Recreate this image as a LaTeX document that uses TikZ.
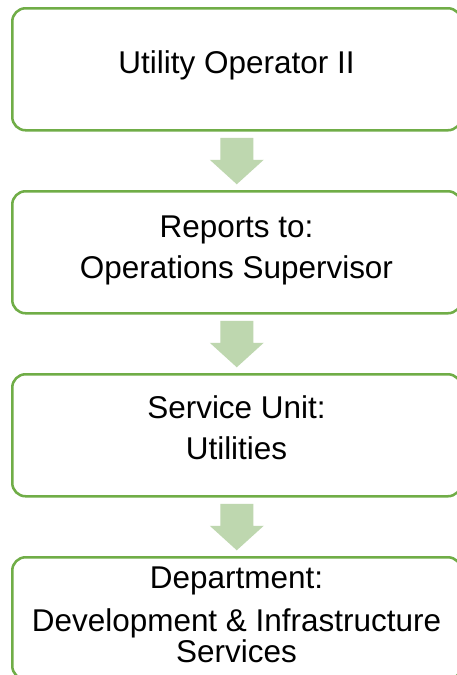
\documentclass[tikz,border=0pt]{standalone}
\usepackage{fontspec}
\setmainfont{Liberation Sans}
\usetikzlibrary{calc}
\definecolor{boxgreen}{HTML}{70AD47}
\definecolor{arrowgreen}{RGB}{190,215,175}
\begin{document}
\begin{tikzpicture}[x=0.75pt,y=-0.75pt,
  box/.style={draw=boxgreen, line width=1.9pt, rounded corners=10pt, fill=white,
    minimum width=449*0.75pt, minimum height=122*0.75pt, inner sep=0pt, anchor=north west},
  txt/.style={font=\fontsize{23.6pt}{28pt}\selectfont, anchor=base, inner sep=0pt},
  blockarrow/.style={fill=arrowgreen, draw=none}]
\useasboundingbox (0,0) rectangle (457,675);
\fill[white] (0,0) rectangle (457,675);
\node[box] (b1) at (11,7) {};
\node[box] (b2) at (11,190) {};
\node[box] (b3) at (11,373) {};
\node[box] (b4) at (11,556) {};
% text
\node[txt] (t1) at (236.5,73) {Utility Operator II};
\node[txt] (t2a) at (236.5,237) {Reports to:};
\node[txt] (t2b) at (236.5,278) {Operations Supervisor};
\node[txt] (t3a) at (236.5,418) {Service Unit:};
\node[txt] (t3b) at (236.5,459) {Utilities};
\node[txt] (t4a) at (236.5,588) {Department:};
\node[txt] (t4b) at (236.5,631) {Development \& Infrastructure};
\node[txt] (t4c) at (236.5,662) {Services};
% block arrows
\foreach \a/\b in {b1/b2,b2/b3,b3/b4}{
  \path (\a.south) -- (\b.north) coordinate[pos=0.5] (m);
  \fill[blockarrow] ($(m)+(-16.5,-23)$) -- ($(m)+(16.5,-23)$) -- ($(m)+(16.5,-1)$)
    -- ($(m)+(27,-1)$) -- ($(m)+(0,23.5)$) -- ($(m)+(-27,-1)$) -- ($(m)+(-16.5,-1)$) -- cycle;
}
\end{tikzpicture}
\end{document}
